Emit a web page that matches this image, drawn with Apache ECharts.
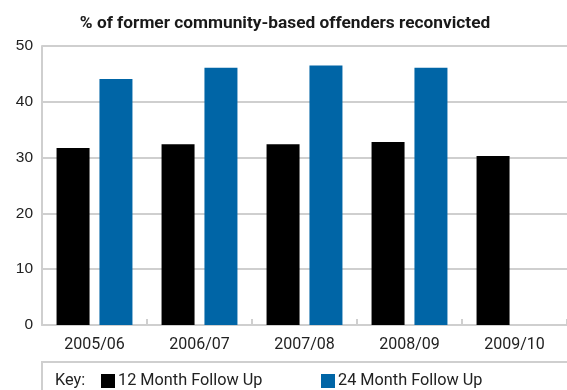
<!DOCTYPE html>
<html>
<head>
<meta charset="utf-8">
<script src="https://cdn.jsdelivr.net/npm/echarts@6/dist/echarts.min.js"></script>
<style>
  html, body { margin: 0; padding: 0; background: #fff; }
  #chart { width: 567px; height: 390px; }
</style>
</head>
<body>
<div id="chart"></div>
<script>
// Reconviction rates by year, 12- and 24-month follow-up periods
const categories = ['2005/06', '2006/07', '2007/08', '2008/09', '2009/10'];
const followUp12 = [31.7, 32.4, 32.4, 32.8, 30.3];
const followUp24 = [44.1, 46.1, 46.5, 46.1, null];
const yTicks = [0, 10, 20, 30, 40, 50];

const gridColor = '#cfcfcf';
const labelFont = 'Roboto, "Liberation Sans", sans-serif';

const chart = echarts.init(document.getElementById('chart'), null, { renderer: 'canvas' });

const legendText = { fontFamily: labelFont, fontSize: 16.3, color: '#222', padding: [0, 0, 0, -2] };

chart.setOption({
  animation: false,
  backgroundColor: '#ffffff',
  title: {
    text: '% of former community-based offenders reconvicted',
    left: 285,
    textAlign: 'center',
    top: 15,
    padding: 0,
    textStyle: { fontFamily: labelFont, fontSize: 17.3, fontWeight: 'bold', color: '#1a1a1a' }
  },
  grid: { left: 42, top: 46, width: 535, height: 279, containLabel: false },
  xAxis: {
    type: 'category',
    data: categories,
    boundaryGap: true,
    axisLine: { show: true, lineStyle: { color: gridColor, width: 2 } },
    axisTick: { show: true, inside: true, length: 6, lineStyle: { color: gridColor, width: 2 } },
    axisLabel: { margin: 12, fontFamily: labelFont, fontSize: 16, color: '#222' }
  },
  yAxis: {
    type: 'value',
    min: yTicks[0],
    max: yTicks[yTicks.length - 1],
    interval: 10,
    axisLine: { show: true, lineStyle: { color: gridColor, width: 2 } },
    axisTick: { show: false },
    splitLine: { show: true, lineStyle: { color: gridColor, width: 2 } },
    axisLabel: { margin: 9, fontFamily: '"Liberation Sans", Arial, sans-serif', fontSize: 15.5, color: '#222' }
  },
  legend: [
    {
      data: ['12 Month Follow Up'],
      left: 101, top: 373, padding: 0,
      itemWidth: 14, itemHeight: 14,
      icon: 'rect',
      textStyle: legendText
    },
    {
      data: ['24 Month Follow Up'],
      left: 321, top: 373, padding: 0,
      itemWidth: 14, itemHeight: 14,
      icon: 'rect',
      textStyle: legendText
    }
  ],
  graphic: [
    {
      type: 'rect',
      shape: { x: 42, y: 362, width: 560, height: 60 },
      style: { fill: 'none', stroke: gridColor, lineWidth: 2 },
      z: -1
    },
    {
      type: 'text',
      left: 55, top: 373,
      style: { text: 'Key:', fontFamily: labelFont, fontSize: 16.3, fill: '#222' }
    }
  ],
  series: [
    {
      name: '12 Month Follow Up',
      type: 'bar',
      data: followUp12,
      barWidth: 33,
      barGap: '30%',
      itemStyle: { color: '#000000' }
    },
    {
      name: '24 Month Follow Up',
      type: 'bar',
      data: followUp24,
      barWidth: 33,
      barGap: '30%',
      itemStyle: { color: '#0065a6' }
    }
  ]
});
</script>
</body>
</html>
